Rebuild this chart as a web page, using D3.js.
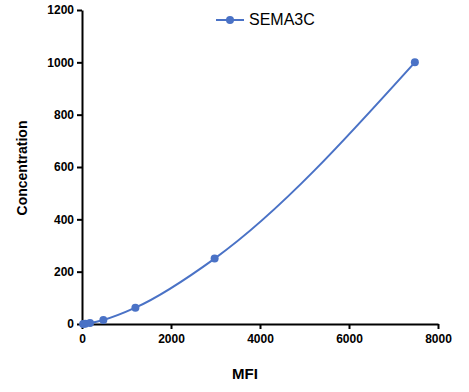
<!DOCTYPE html>
<html>
<head>
<meta charset="utf-8">
<script src="https://cdn.jsdelivr.net/npm/d3@7"></script>
<style>
  body { margin: 0; background: #fff; }
  text { font-family: "Liberation Sans", Arial, sans-serif; }
</style>
</head>
<body>
<script>
'use strict';

// standard curve data
const seriesName = "SEMA3C";
const mfi = [25, 75, 180, 480, 1200, 2980, 7480];
const concentration = [0, 0.98, 3.9, 15.6, 62.5, 250, 1000];
const xTicks = [0, 2000, 4000, 6000, 8000];
const yTicks = [0, 200, 400, 600, 800, 1000, 1200];

(function() {
  const width = 469, height = 392;
  const blue = "#4a72c6";

  const svg = d3.select('body')
    .append('svg')
    .attr('width', width)
    .attr('height', height);

  // scales
  const xScale = d3.scaleLinear().domain([0, 8000]).range([82, 438]);
  const yScale = d3.scaleLinear().domain([0, 1200]).range([324, 10]);

  // x axis
  const xAxis = svg.append('g')
    .attr('transform', 'translate(0, 324)')
    .call(d3.axisBottom(xScale).tickValues(xTicks).tickFormat(d3.format('d'))
      .tickSize(5).tickPadding(5).tickSizeOuter(0));

  // y axis
  const yAxis = svg.append('g')
    .attr('transform', 'translate(82, 0)')
    .call(d3.axisLeft(yScale).tickValues(yTicks).tickFormat(d3.format('d'))
      .tickSize(5).tickPadding(3).tickSizeOuter(0));

  [xAxis, yAxis].forEach((g) => {
    g.select('.domain').attr('stroke', '#000').attr('stroke-width', 2);
    g.selectAll('.tick line').attr('stroke', '#000').attr('stroke-width', 2);
    g.selectAll('.tick text')
      .attr('fill', '#000')
      .style('font-size', '12px')
      .style('font-weight', 'bold')
      .style('font-family', '"Liberation Sans", Arial, sans-serif');
  });

  // curve
  const points = mfi.map((m, i) => [m, concentration[i]]);
  const line = d3.line()
    .x((d) => xScale(d[0]))
    .y((d) => yScale(d[1]))
    .curve(d3.curveMonotoneX);

  svg.append('path')
    .datum(points)
    .attr('d', line)
    .attr('fill', 'none')
    .attr('stroke', blue)
    .attr('stroke-width', 2);

  svg.selectAll('.dot')
    .data(points)
    .enter()
    .append('circle')
      .attr('cx', (d) => xScale(d[0]))
      .attr('cy', (d) => yScale(d[1]))
      .attr('r', 4)
      .attr('fill', blue);

  // legend
  svg.append('line')
    .attr('x1', 216).attr('x2', 244)
    .attr('y1', 20).attr('y2', 20)
    .attr('stroke', blue).attr('stroke-width', 2);
  svg.append('circle')
    .attr('cx', 230).attr('cy', 20).attr('r', 4)
    .attr('fill', blue);
  svg.append('text')
    .attr('x', 249).attr('y', 25)
    .style('font-size', '16px')
    .text(seriesName);

  // axis titles
  svg.append('text')
    .attr('x', 245).attr('y', 379)
    .attr('text-anchor', 'middle')
    .style('font-size', '15px')
    .style('font-weight', 'bold')
    .text('MFI');

  svg.append('text')
    .attr('transform', 'translate(27, 168)rotate(-90)')
    .attr('text-anchor', 'middle')
    .style('font-size', '14px')
    .style('font-weight', 'bold')
    .text('Concentration');
})();
</script>
</body>
</html>
